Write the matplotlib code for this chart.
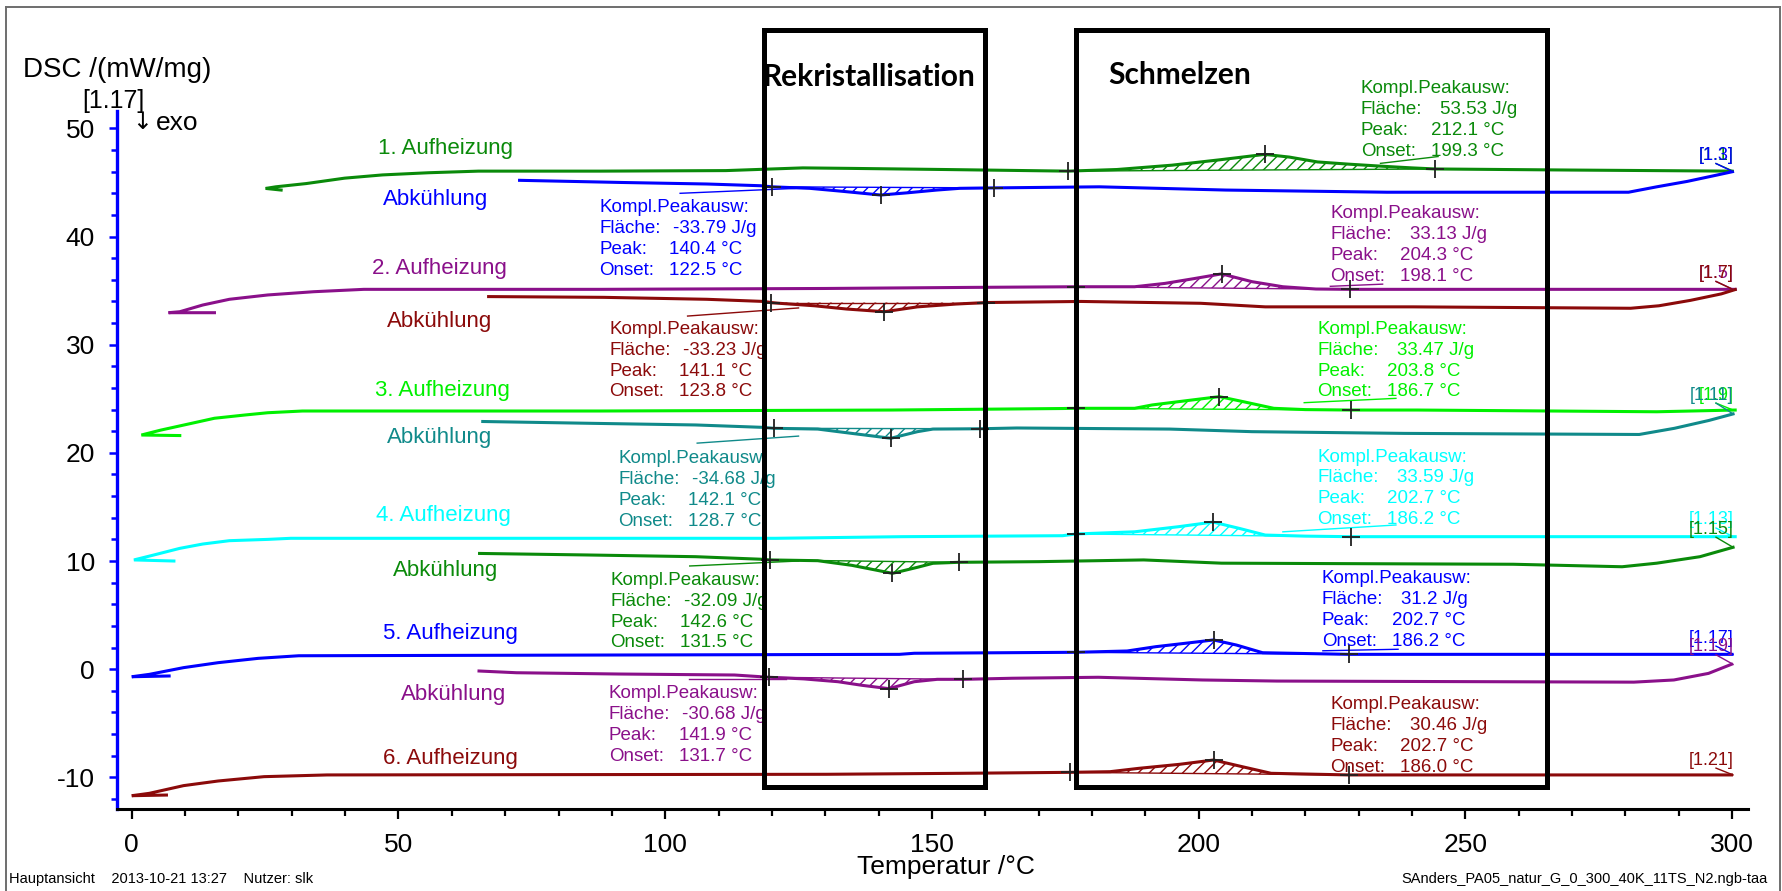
import numpy as np
import matplotlib.pyplot as plt
from matplotlib.patches import Rectangle
from matplotlib.lines import Line2D
from matplotlib.ticker import MultipleLocator

plt.rcParams['font.family'] = ['Liberation Sans', 'DejaVu Sans']
plt.rcParams['hatch.linewidth'] = 1.0
plt.rcParams['axes.unicode_minus'] = False

GREEN = "#0a8a0a"
BLUE = "#0000ff"
PURPLE = "#8a108a"
DRED = "#8b0a0a"
LIME = "#00f000"
TEAL = "#108a8a"
CYAN = "#00ffff"

# ---- curves: temperature /°C, DSC /(mW/mg) ----
h1_T = [28.0, 25.1, 27.0, 32.7, 39.9, 47.0, 55.6, 65.0, 87.8, 111.4, 125.8, 135.4, 152.3, 175.5,
        184.7, 195.0, 204.0, 212.4, 217.0, 222.3, 228.0, 234.5, 240.0, 244.4, 270.0, 300.0]
h1_y = [44.3, 44.45, 44.6, 44.9, 45.4, 45.7, 45.9, 46.05, 46.05, 46.1, 46.35, 46.3, 46.2, 46.05,
        46.2, 46.6, 47.1, 47.6, 47.35, 46.9, 46.7, 46.5, 46.35, 46.25, 46.15, 46.05]

c1_T = [72.7, 92.0, 107.8, 117.9, 120.0, 127.1, 132.9, 140.4, 145.5, 150.9, 155.2, 161.6, 181.4,
        205.1, 235.3, 280.6, 285.9, 291.6, 297.3, 300.1]
c1_y = [45.2, 45.0, 44.86, 44.7, 44.6, 44.46, 44.2, 43.84, 44.05, 44.3, 44.46, 44.5, 44.6,
        44.3, 44.1, 44.1, 44.6, 45.1, 45.7, 46.0]

h2_T = [15.5, 6.9, 9.0, 13.3, 18.3, 25.5, 34.1, 43.5, 87.8, 130.0, 157.3, 177.0, 188.0, 193.7,
        199.0, 204.3, 210.0, 215.8, 222.0, 228.4, 260.0, 300.6]
h2_y = [32.96, 32.96, 33.05, 33.67, 34.2, 34.6, 34.9, 35.12, 35.12, 35.2, 35.3, 35.36, 35.36, 35.67,
        36.1, 36.55, 35.83, 35.36, 35.15, 35.12, 35.12, 35.12]

c2_T = [66.9, 88.5, 107.8, 118.5, 119.9, 121.4, 128.0, 134.0, 141.1, 147.3, 154.5, 160.2, 178.0,
        200.4, 212.5, 240.2, 281.0, 286.3, 292.2, 298.0, 300.6]
c2_y = [34.45, 34.38, 34.2, 34.0, 33.9, 33.83, 33.6, 33.3, 33.05, 33.5, 33.76, 33.9, 34.0,
        33.83, 33.5, 33.5, 33.37, 33.6, 34.1, 34.7, 35.1]

h3_T = [9.0, 1.8, 5.4, 11.2, 15.5, 21.2, 25.5, 32.0, 87.8, 142.3, 174.5, 177.0, 188.0, 191.3,
        197.8, 203.9, 208.4, 214.1, 220.0, 228.5, 241.0, 285.9, 300.6]
h3_y = [21.6, 21.65, 22.1, 22.73, 23.2, 23.5, 23.71, 23.87, 23.87, 23.96, 24.1, 24.12, 24.12, 24.43,
        24.83, 25.2, 24.73, 24.12, 24.0, 23.96, 23.96, 23.8, 23.96]

c3_T = [65.8, 86.3, 105.7, 118.2, 120.4, 128.6, 135.0, 142.3, 147.3, 150.2, 159.1, 165.9, 194.6,
        210.0, 238.6, 282.6, 289.2, 295.7, 300.2]
c3_y = [22.9, 22.73, 22.58, 22.36, 22.27, 22.2, 21.8, 21.35, 21.96, 22.2, 22.23, 22.3, 22.2,
        21.96, 21.8, 21.7, 22.27, 23.0, 23.6]

h4_T = [7.9, 0.4, 4.0, 9.0, 13.3, 18.3, 25.5, 29.8, 87.8, 120.7, 144.4, 174.5, 177.0, 188.0,
        196.2, 202.7, 207.6, 212.5, 220.0, 228.5, 260.0, 300.6]
h4_y = [10.0, 10.1, 10.54, 11.17, 11.57, 11.88, 12.0, 12.1, 12.1, 12.1, 12.25, 12.34, 12.5, 12.7,
        13.17, 13.6, 13.02, 12.4, 12.3, 12.25, 12.25, 12.25]

c4_T = [65.2, 85.2, 105.7, 118.2, 119.6, 128.6, 135.0, 142.6, 147.3, 150.2, 155.0, 170.0, 189.7,
        204.3, 259.0, 279.4, 285.9, 294.0, 300.2]
c4_y = [10.7, 10.56, 10.4, 10.16, 10.1, 10.03, 9.6, 8.86, 9.42, 9.79, 9.88, 9.94, 10.1,
        9.8, 9.7, 9.47, 9.8, 10.4, 11.27]

h5_T = [7.0, 0.0, 3.3, 9.7, 16.2, 23.7, 31.3, 143.9, 146.7, 177.0, 186.6, 192.0, 198.5, 202.8,
        207.1, 212.0, 228.2, 300.0]
h5_y = [-0.63, -0.7, -0.48, 0.14, 0.6, 1.0, 1.24, 1.37, 1.47, 1.56, 1.68, 2.08, 2.45, 2.7,
        2.23, 1.52, 1.37, 1.37]

c5_T = [65.1, 72.1, 91.5, 113.0, 119.5, 126.0, 132.4, 137.0, 141.9, 146.7, 151.0, 155.9, 165.1,
        181.2, 200.7, 214.7, 281.6, 289.1, 295.6, 299.9]
c5_y = [-0.17, -0.33, -0.45, -0.54, -0.75, -0.9, -1.16, -1.5, -1.8, -1.16, -0.94, -0.94, -0.84,
        -0.75, -1.0, -1.1, -1.2, -1.0, -0.39, 0.45]

h6_T = [6.5, 0.0, 3.3, 9.7, 16.2, 24.8, 36.6, 130.3, 155.4, 175.9, 183.4, 188.8, 196.4, 202.8,
        208.2, 213.6, 228.2, 299.9]
h6_y = [-11.64, -11.7, -11.48, -10.77, -10.34, -9.94, -9.78, -9.72, -9.63, -9.54, -9.48, -9.17,
        -8.8, -8.4, -9.02, -9.63, -9.78, -9.78]

# segment names, colours, peak limits (left, peak, right)
names = ["1. Aufheizung", "Abkühlung", "2. Aufheizung", "Abkühlung", "3. Aufheizung", "Abkühlung",
         "4. Aufheizung", "Abkühlung", "5. Aufheizung", "Abkühlung", "6. Aufheizung"]
colors = [GREEN, BLUE, PURPLE, DRED, LIME, TEAL, CYAN, GREEN, BLUE, PURPLE, DRED]
temps = [h1_T, c1_T, h2_T, c2_T, h3_T, c3_T, h4_T, c4_T, h5_T, c5_T, h6_T]
dscs = [h1_y, c1_y, h2_y, c2_y, h3_y, c3_y, h4_y, c4_y, h5_y, c5_y, h6_y]
name_x = [58.9, 56.9, 57.7, 57.7, 58.3, 57.7, 58.5, 58.9, 59.7, 60.4, 59.7]
name_y = [48.1, 43.4, 37.06, 32.13, 25.81, 21.44, 14.25, 9.1, 3.3, -2.3, -8.24]
limits = [(175.5, 212.4, 244.4), (120.0, 140.4, 161.6), (177.0, 204.3, 228.4),
          (119.9, 141.1, 160.2), (177.0, 203.9, 228.5), (120.4, 142.3, 159.1),
          (177.0, 202.7, 228.5), (119.6, 142.6, 155.0), (177.0, 202.8, 228.2),
          (119.5, 141.9, 155.9), (175.9, 202.8, 228.2)]

# peak evaluation results
flaeche = ["53.53 J/g", "-33.79 J/g", "33.13 J/g", "-33.23 J/g", "33.47 J/g", "-34.68 J/g",
           "33.59 J/g", "-32.09 J/g", "31.2 J/g", "-30.68 J/g", "30.46 J/g"]
peak = ["212.1 °C", "140.4 °C", "204.3 °C", "141.1 °C", "203.8 °C", "142.1 °C",
        "202.7 °C", "142.6 °C", "202.7 °C", "141.9 °C", "202.7 °C"]
onset = ["199.3 °C", "122.5 °C", "198.1 °C", "123.8 °C", "186.7 °C", "128.7 °C",
         "186.2 °C", "131.5 °C", "186.2 °C", "131.7 °C", "186.0 °C"]
ann_x = [230.4, 87.7, 224.7, 89.5, 222.3, 91.2, 222.3, 89.7, 223.1, 89.4, 224.7]
ann_y = [53.24, 42.24, 41.69, 30.99, 30.99, 19.03, 19.18, 7.78, 7.94, -2.70, -3.71]

# onset construction lines
tang_x = [(234.1, 244.9), (102.8, 124.3), (224.7, 234.5), (104.2, 125.0), (219.8, 237.0),
          (106.0, 125.0), (215.8, 237.0), (104.6, 125.0), (223.3, 237.4), (104.4, 122.7), None]
tang_y = [(46.77, 47.4), (44.0, 44.45), (35.4, 35.6), (32.65, 33.4), (24.64, 25.04),
          (20.9, 21.55), (12.7, 13.33), (9.54, 10.0), (1.7, 1.84), (-0.9, -0.9), None]

# segment tags at the right end
seg_tags = ["[1.1]", "[1.3]", "[1.5]", "[1.7]", "[1.9]", "[1.11]", "[1.13]", "[1.15]",
            "[1.17]", "[1.19]", "[1.21]"]
seg_y = [47.5, 47.5, 36.6, 36.6, 25.35, 25.35, 13.8, 12.95, 2.88, 2.08, -8.4]

fig = plt.figure(figsize=(17.82, 8.91), dpi=100)
ax = fig.add_axes([117 / 1782, 1 - 809 / 891, 1631 / 1782, 698 / 891])
ax.set_xlim(-2.77, 303.0)
ax.set_ylim(-12.93, 51.61)

for i in range(11):
    T = np.array(temps[i])
    y = np.array(dscs[i])
    c = colors[i]
    ax.plot(T, y, color=c, lw=2.2, zorder=3, solid_joinstyle='miter')

    a, p, b = limits[i]
    m = (T >= a) & (T <= b)
    Ts, ys = T[m], y[m]
    base = ys[0] + (ys[-1] - ys[0]) * (Ts - Ts[0]) / (Ts[-1] - Ts[0])
    ax.fill_between(Ts, ys, base, facecolor='none', edgecolor=c, hatch='///', lw=0, zorder=2)
    ax.plot([Ts[0], Ts[-1]], [ys[0], ys[-1]], color=c, lw=1.0, zorder=2)
    for t in (a, p, b):
        k = list(T).index(t)
        ax.plot(t, y[k], marker='+', ms=13, mew=1.3, color='#202020', zorder=5)

    if tang_x[i] is not None:
        ax.plot(tang_x[i], tang_y[i], color=c, lw=1.0, zorder=2)

    ax.text(name_x[i], name_y[i], names[i], color=c, fontsize=16, ha='center', va='center')

    x0, y0 = ann_x[i], ann_y[i]
    off = 14.9 if not flaeche[i].startswith('-') else 13.8
    rows = [("Kompl.Peakausw:", None, 0), ("Fläche:", flaeche[i], off),
            ("Peak:", peak[i], 13.1), ("Onset:", onset[i], 13.1)]
    for j, (lab, val, dx) in enumerate(rows):
        yy = y0 - j * 1.92
        ax.text(x0, yy, lab, color=c, fontsize=13.5, va='baseline', ha='left', zorder=4)
        if val:
            ax.text(x0 + dx, yy, val, color=c, fontsize=13.5, va='baseline', ha='left', zorder=4)

    ax.text(300.3, seg_y[i], seg_tags[i], color=c, fontsize=13, ha='right', va='center', zorder=4)
    ax.plot([297.0, 300.2], [seg_y[i] - 0.75, y[-1]], color=c, lw=1.0, zorder=4)

# evaluation windows
for (xa, xb) in [(118.5, 160.0), (177.1, 265.3)]:
    ax.add_patch(Rectangle((xa, -10.85), xb - xa, 59.1 + 10.85, fill=False, ec='black',
                           lw=3.6, zorder=10, clip_on=False))
ax.text(138.2, 54.75, "Rekristallisation", fontsize=21.5, fontweight='bold', family='Lato',
        ha='center', va='center', zorder=11)
ax.text(196.5, 54.9, "Schmelzen", fontsize=21.5, fontweight='bold', family='Lato',
        ha='center', va='center', zorder=11)

# axes styling
for s in ('top', 'right'):
    ax.spines[s].set_visible(False)
ax.spines['left'].set_color(BLUE)
ax.spines['left'].set_linewidth(2.4)
ax.spines['bottom'].set_color('black')
ax.spines['bottom'].set_linewidth(2.2)
ax.xaxis.set_major_locator(MultipleLocator(50))
ax.xaxis.set_minor_locator(MultipleLocator(10))
ax.yaxis.set_major_locator(MultipleLocator(10))
ax.yaxis.set_minor_locator(MultipleLocator(2))
ax.tick_params(axis='x', which='major', length=7, width=1.6, labelsize=19, pad=10)
ax.tick_params(axis='x', which='minor', length=5, width=1.6)
ax.tick_params(axis='y', which='major', length=6, width=1.8, colors=BLUE, labelsize=19,
               labelcolor='black', pad=10)
ax.tick_params(axis='y', which='minor', length=4, width=1.8, colors=BLUE)
for lab in ax.get_xticklabels() + ax.get_yticklabels():
    lab.set_color('black')

# header / footer texts
fig.text(23 / 1782, 1 - 77 / 891, "DSC /(mW/mg)", fontsize=20, ha='left', va='baseline')
fig.text(82 / 1782, 1 - 108 / 891, "[1.17]", fontsize=18, ha='left', va='baseline')
fig.text(142 / 1782, 1 - 122 / 891, "↓", fontsize=17, ha='center', va='center',
         family='DejaVu Sans')
fig.text(156 / 1782, 1 - 130 / 891, "exo", fontsize=19, ha='left', va='baseline')
fig.text(946 / 1782, 1 - 867 / 891, "Temperatur /°C", fontsize=19, ha='center', va='center')
fig.text(9 / 1782, 1 - 879 / 891, "Hauptansicht    2013-10-21 13:27    Nutzer: slk",
         fontsize=10.5, ha='left', va='center')
fig.text(1768 / 1782, 1 - 879 / 891, "SAnders_PA05_natur_G_0_300_40K_11TS_N2.ngb-taa",
         fontsize=10.5, ha='right', va='center')

# gray picture frame
gy = '#6e6e6e'
fig.add_artist(Line2D([6 / 1782, 6 / 1782], [0, 1 - 7 / 891], color=gy, lw=1.4))
fig.add_artist(Line2D([6 / 1782, 1780 / 1782], [1 - 7 / 891, 1 - 7 / 891], color=gy, lw=1.4))
fig.add_artist(Line2D([1780 / 1782, 1780 / 1782], [0, 1 - 7 / 891], color=gy, lw=1.4))

fig.savefig("out.png", dpi=100)
